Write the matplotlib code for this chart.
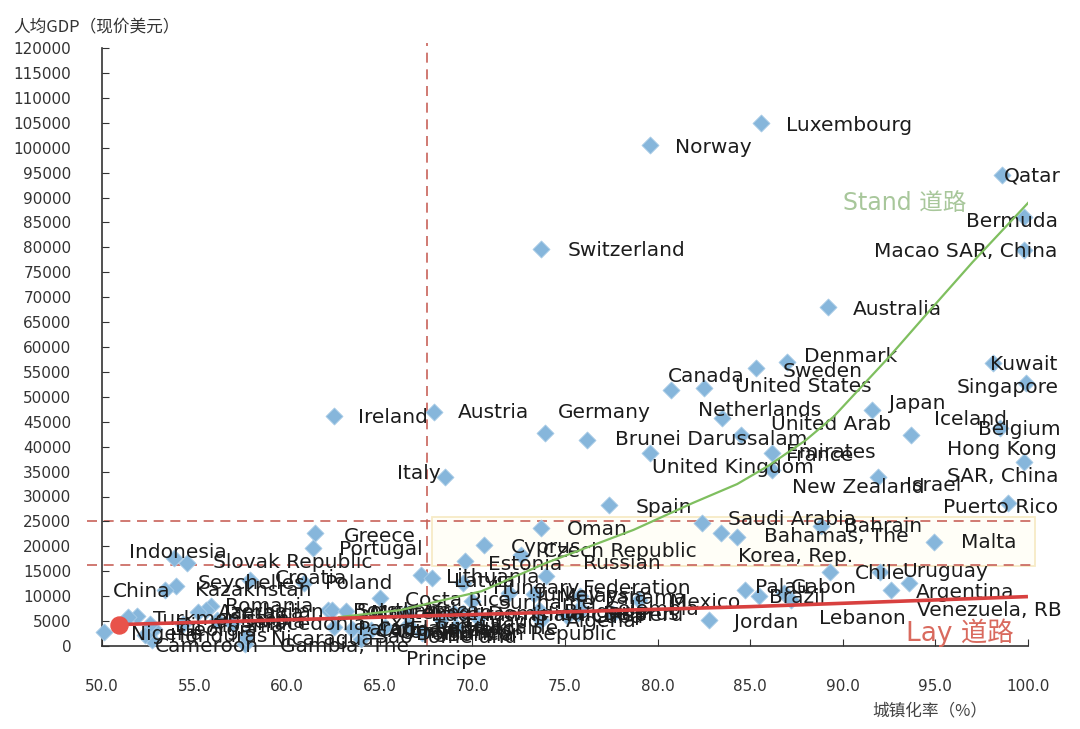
import matplotlib
matplotlib.use("Agg")
import matplotlib.pyplot as plt
from matplotlib.patches import Rectangle

plt.rcParams['font.family'] = ['DejaVu Sans', 'Noto Sans CJK SC']

# ---------------- data ----------------
countries = [
    "Luxembourg", "Norway", "Switzerland", "Qatar", "Bermuda", "Macao SAR, China",
    "Australia", "Kuwait", "Singapore", "Denmark", "Sweden", "Canada",
    "United States", "Netherlands", "Japan", "United Arab Emirates", "France",
    "United Kingdom", "Brunei Darussalam", "Germany", "Austria", "Ireland", "Italy",
    "Iceland", "Belgium", "Hong Kong SAR, China", "New Zealand", "Israel",
    "Puerto Rico", "Spain", "Saudi Arabia", "Bahrain", "Korea, Rep.", "Bahamas, The",
    "Malta", "Oman", "Cyprus", "Czech Republic", "Estonia", "Russian Federation",
    "Lithuania", "Latvia", "Hungary", "Greece", "Portugal", "Indonesia",
    "Slovak Republic", "Croatia", "Poland", "Seychelles", "Kazakhstan", "China",
    "Romania", "Jamaica", "Azerbaijan", "Turkmenistan", "Botswana", "Costa Rica",
    "Mexico", "Palau", "Gabon", "Brazil", "Chile", "Uruguay", "Argentina",
    "Venezuela, RB", "Lebanon", "Jordan", "Sao Tome and Principe", "Gambia, The",
    "Cameroon", "Nigeria", "Congo, Rep.", "Dominican Republic",
    "Georgia", "Albania", "Fiji", "Honduras", "Nicaragua", "Macedonia, FYR",
    "Serbia", "Paraguay", "South Africa", "Montenegro", "Armenia", "Cabo Verde",
    "El Salvador", "Tunisia", "Iraq", "Bolivia", "Ukraine", "Ecuador",
    "Iran, Islamic Rep.", "Dominica", "Algeria", "Bulgaria", "Malaysia", "Turkey",
    "Belarus", "Cuba", "Colombia", "Peru", "Suriname", "Panama",
]
urban = [
    85.6, 79.6, 73.7, 98.6, 99.8, 99.8,
    89.2, 98.1, 99.9, 87.0, 85.3, 80.7,
    82.5, 83.5, 91.6, 84.5, 86.2,
    79.6, 76.2, 73.9, 67.9, 62.5, 68.5,
    93.7, 98.5, 99.8, 86.2, 91.9,
    98.9, 77.4, 82.4, 88.8, 83.4, 84.3,
    94.9, 73.7, 70.6, 72.6, 69.6, 74.0,
    67.2, 67.8, 69.5, 61.5, 61.4, 53.9,
    54.6, 58.0, 60.9, 54.0, 53.4, 51.9,
    55.9, 55.6, 55.2, 51.4, 62.2, 65.0,
    79.0, 84.7, 86.8, 85.5, 89.3, 92.0, 92.6,
    93.6, 87.2, 82.8, 64.0, 57.7,
    52.7, 50.1, 64.5, 70.3,
    52.8, 54.4, 52.6, 52.3, 57.8, 57.0,
    56.2, 62.5, 62.4, 63.2, 64.1, 63.5,
    65.3, 66.5, 66.4, 67.3, 69.1, 68.3,
    69.0, 69.5, 73.7, 73.6, 73.3, 72.0,
    75.7, 75.1, 75.8, 77.6, 70.0, 75.8,
]
gdp = [
    105000, 100500, 79700, 94500, 86100, 79500,
    68000, 56800, 52800, 57000, 55800, 51400,
    51800, 45800, 47400, 42400, 38700,
    38700, 41400, 42800, 47000, 46200, 33900,
    42400, 43800, 36900, 35300, 33900,
    28700, 28300, 24700, 24100, 22700, 21900,
    20900, 23700, 20300, 18300, 17100, 14000,
    14300, 13700, 12600, 22700, 19700, 17700,
    16700, 13200, 12600, 12000, 11200, 6100,
    8000, 7200, 6900, 5800, 7300, 9600,
    9200, 11200, 10600, 10000, 14900, 14900, 11200,
    12600, 9200, 5200, 1400, 500,
    1200, 2800, 3200, 5700,
    3500, 4400, 4400, 2300, 1800, 4700,
    5200, 3800, 7300, 7000, 3300, 3500,
    3800, 4200, 6600, 2600, 3900, 5400,
    6600, 6700, 5300, 7200, 10400, 10600,
    6700, 6100, 7700, 6500, 9000, 10000,
]

# two development paths
stand_x = [62.8, 66.1, 70.5, 74.0, 78.7, 81.9, 84.3, 86.0, 88.0, 89.5, 91.0,
           92.5, 94.5, 97.0, 100.0]
stand_y = [5800, 7200, 11000, 16700, 23300, 28700, 32500, 36200, 41300, 46000,
           52000, 58000, 66500, 77000, 88900]
lay_x = [50.9, 85.0, 99.9]
lay_y = [4300, 7900, 9900]
start_x, start_y = 50.9, 4300

xticks = [50, 55, 60, 65, 70, 75, 80, 85, 90, 95, 100]
yticks = list(range(0, 120001, 5000))

# label placement (pixel offsets / alignment)
label_pos = {
    "Luxembourg": (25, -3, "left"), "Norway": (25, -2, "left"),
    "Switzerland": (27, -2, "left"), "Qatar": (2, -1, "left"),
    "Bermuda": (-12, -5, "center"), "Macao SAR, China": (-59, -2, "center"),
    "Australia": (25, -2, "left"), "Kuwait": (-3, -2, "left"),
    "Singapore": (-19, -5, "center"), "Denmark": (17, 5, "left"),
    "Sweden": (27, -4, "left"), "Canada": (-3, 13, "left"),
    "United States": (31, 1, "left"), "Netherlands": (37, 7, "center"),
    "Japan": (17, 6, "left"), "United Arab Emirates": (90, -4, "center"),
    "France": (14, -2, "left"), "United Kingdom": (83, -14, "center"),
    "Brunei Darussalam": (28, 0, "left"), "Germany": (13, 20, "left"),
    "Austria": (24, -1, "left"), "Ireland": (25, -2, "left"),
    "Italy": (-4, 4, "right"), "Iceland": (23, 15, "left"),
    "Belgium": (-22, -2, "left"), "Hong Kong SAR, China": (-22, -1, "center"),
    "New Zealand": (20, -17, "left"), "Israel": (28, -8, "left"),
    "Puerto Rico": (-7, -5, "center"), "Spain": (26, -3, "left"),
    "Saudi Arabia": (26, 3, "left"), "Bahrain": (23, -1, "left"),
    "Korea, Rep.": (17, -24, "left"), "Bahamas, The": (27, 0, "left"),
    "Malta": (27, -1, "left"), "Oman": (26, -2, "left"),
    "Cyprus": (27, -3, "left"), "Czech Republic": (22, 3, "left"),
    "Estonia": (23, -4, "left"), "Russian Federation": (37, 0, "left"),
    "Lithuania": (25, -3, "left"), "Latvia": (22, -4, "left"),
    "Hungary": (30, -5, "left"), "Greece": (29, -4, "left"),
    "Portugal": (26, -2, "left"), "Indonesia": (53, 5, "right"),
    "Slovak Republic": (26, 0, "left"), "Croatia": (25, 2, "left"),
    "Poland": (21, 0, "left"), "Seychelles": (22, 3, "left"),
    "Kazakhstan": (30, 0, "left"), "China": (-24, 24, "left"),
    "Romania": (14, 0, "left"), "Jamaica": (18, -3, "left"),
    "Azerbaijan": (20, -1, "left"), "Venezuela, RB": (8, -27, "left"),
    "Lebanon": (28, -18, "left"), "Palau": (10, 3, "left"),
    "Gabon": (7, 6, "left"), "Brazil": (10, -1, "left"),
    "Mexico": (31, -2, "left"), "Uruguay": (22, 0, "left"),
    "Sao Tome and Principe": (85, -9, "center"), "Gambia, The": (35, -3, "left"),
    "Cameroon": (3, -6, "left"), "Nigeria": (27, -2, "left"),
    "Dominican Republic": (-62, -17, "left"),
}
label_text = {
    "United Arab Emirates": "United Arab\nEmirates",
    "Hong Kong SAR, China": "Hong Kong\nSAR, China",
    "Russian Federation": "Russian\nFederation",
    "Sao Tome and Principe": "Sao Tome and\nPrincipe",
}
line_sp = {"United Arab Emirates": 1.6, "Hong Kong SAR, China": 1.5,
           "Russian Federation": 1.4}

# ---------------- figure ----------------
fig = plt.figure(figsize=(10.8, 7.29), dpi=100)
ax = fig.add_axes([102 / 1080, 83 / 729, 926 / 1080, 598 / 729])
ax.set_xlim(50, 100)
ax.set_ylim(0, 120000)

dash_col = "#c8625a"
# faint yellow box
ax.add_patch(Rectangle((67.8, 16000), 32.6, 9800, facecolor="#fffef7",
                       edgecolor="#f7ebc6", lw=1.3, zorder=0, clip_on=False))
# reference dashed lines
ax.plot([67.55, 67.55], [0, 121000], ls=(0, (6, 4)), color=dash_col, lw=1.2,
        zorder=1, clip_on=False)
for yv in (25000, 16200):
    ax.plot([49.2, 100.4], [yv, yv], ls=(0, (6, 4)), color=dash_col, lw=1.2,
            zorder=1, clip_on=False)

# points
ax.scatter(urban, gdp, marker="D", s=75, color="#86b6db", edgecolors="#a8cbe6",
           linewidths=0.6, zorder=3, clip_on=False)

# labels
for name, xv, yv in zip(countries, urban, gdp):
    dx, dy, ha = label_pos.get(name, (25, -2, "left"))
    ax.annotate(label_text.get(name, name), (xv, yv), xytext=(dx, dy),
                textcoords="offset pixels", ha=ha, va="center", fontsize=14.5,
                color="#1c1c1c", linespacing=line_sp.get(name, 1.2),
                annotation_clip=False, zorder=4)

# paths
ax.plot(stand_x, stand_y, color="#7fbf5f", lw=1.6, zorder=5)
ax.plot(lay_x, lay_y, color="#d8403f", lw=2.6, zorder=5)
ax.scatter([start_x], [start_y], s=150, color="#e8524a", zorder=6)
ax.text(90.0, 88900, "Stand 道路", color="#a8c79b", fontsize=17, va="center",
        ha="left", family=["DejaVu Sans", "Noto Sans CJK SC"])
ax.text(93.4, 2700, "Lay 道路", color="#d96a5e", fontsize=19, va="center",
        ha="left", family=["DejaVu Sans", "Noto Sans CJK SC"])

# axes styling
for s in ("top", "right"):
    ax.spines[s].set_visible(False)
for s in ("left", "bottom"):
    ax.spines[s].set_color("#333333")
    ax.spines[s].set_linewidth(1.2)
ax.set_xticks(xticks)
ax.set_xticklabels([f"{v:.1f}" for v in xticks])
ax.set_yticks(yticks)
ax.set_yticklabels([str(v) for v in yticks])
ax.tick_params(axis="y", direction="in", length=5, pad=22, labelsize=11,
               colors="#333333")
ax.tick_params(axis="x", direction="in", length=5, pad=24, labelsize=11,
               colors="#333333")

fig.text(13 / 1080, 1 - 28 / 729, "人均GDP（现价美元）", fontsize=12,
         family=["Noto Sans CJK SC", "DejaVu Sans"], color="#333333",
         va="center", ha="left")
fig.text(930 / 1080, 1 - 711 / 729, "城镇化率（%）", fontsize=12,
         family=["Noto Sans CJK SC", "DejaVu Sans"], color="#444444",
         va="center", ha="center")

fig.savefig("out.png", dpi=100, facecolor="white")
